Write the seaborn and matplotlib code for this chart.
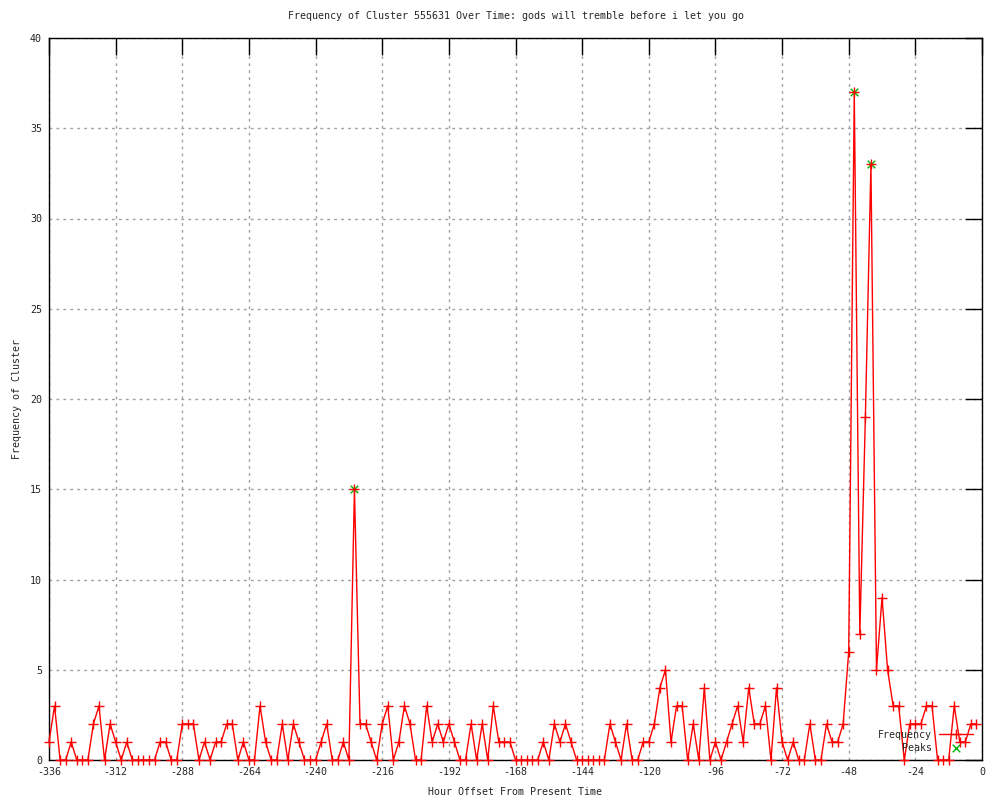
import numpy as np
import pandas as pd
import seaborn as sns
import matplotlib.pyplot as plt

# Degerler (2 saatlik adimlar, -336 .. -2)
hours = list(range(-336, 0, 2))
freq = [1, 3, 0, 0, 1, 0, 0, 0, 2, 3, 0, 2, 1, 0, 1, 0, 0, 0, 0, 0,
        1, 1, 0, 0, 2, 2, 2, 0, 1, 0, 1, 1, 2, 2, 0, 1, 0, 0, 3, 1,
        0, 0, 2, 0, 2, 1, 0, 0, 0, 1, 2, 0, 0, 1, 0, 15, 2, 2, 1, 0,
        2, 3, 0, 1, 3, 2, 0, 0, 3, 1, 2, 1, 2, 1, 0, 0, 2, 0, 2, 0,
        3, 1, 1, 1, 0, 0, 0, 0, 0, 1, 0, 2, 1, 2, 1, 0, 0, 0, 0, 0,
        0, 2, 1, 0, 2, 0, 0, 1, 1, 2, 4, 5, 1, 3, 3, 0, 2, 0, 4, 0,
        1, 0, 1, 2, 3, 1, 4, 2, 2, 3, 0, 4, 1, 0, 1, 0, 0, 2, 0, 0,
        2, 1, 1, 2, 6, 37, 7, 19, 33, 5, 9, 5, 3, 3, 0, 2, 2, 2, 3, 3,
        0, 0, 0, 3, 1, 1, 2, 2]
peak_hours = [-226, -46, -40]
peak_vals = [15, 37, 33]

x_ticks = list(range(-336, 1, 24))
y_ticks = list(range(0, 41, 5))

title = "Frequency of Cluster 555631 Over Time: gods will tremble before i let you go"

sns.set_style("white")
plt.rcParams['font.family'] = ['DejaVu Sans Mono']
plt.rcParams['axes.unicode_minus'] = False
fs = 7.2

df = pd.DataFrame({"hour": hours, "freq": freq})
peaks = pd.DataFrame({"hour": peak_hours, "freq": peak_vals})

fig = plt.figure(figsize=(10, 8), dpi=100)
ax = fig.add_axes([0.049, 0.05, 0.933, 0.9025])

sns.lineplot(data=df, x="hour", y="freq", ax=ax, color="red", linewidth=1,
             marker="+", markersize=7, markeredgewidth=1,
             markeredgecolor="red", label="Frequency", zorder=3)
sns.scatterplot(data=peaks, x="hour", y="freq", ax=ax, color="#00b000",
                marker="x", s=30, linewidth=1, label="Peaks", zorder=2)
for ln in ax.lines:
    ln.set_clip_on(False)
for c in ax.collections:
    c.set_clip_on(False)

ax.set_xlim(-336, 0)
ax.set_ylim(0, 40)
ax.set_xticks(x_ticks)
ax.set_yticks(y_ticks)
ax.tick_params(direction="in", length=12, width=1, top=True, right=True,
               labelsize=fs, pad=5, color="black")
ax.grid(True, color="#a0a0a0", linestyle=(0, (2, 3)), linewidth=1)
ax.set_axisbelow(True)
for s in ax.spines.values():
    s.set_color("black")
    s.set_linewidth(1)

ax.set_title(title, fontsize=fs, pad=14)
ax.set_xlabel("Hour Offset From Present Time", fontsize=fs, labelpad=7)
ax.set_ylabel("Frequency of Cluster", fontsize=fs, labelpad=6)

ax.legend(loc="lower right", bbox_to_anchor=(0.99, 0.01), frameon=False,
          markerfirst=False, fontsize=fs, handlelength=3.4, handletextpad=0.7,
          labelspacing=0.3, borderpad=0, borderaxespad=0, scatterpoints=1,
          numpoints=1)

fig.savefig("out.png", dpi=100)
